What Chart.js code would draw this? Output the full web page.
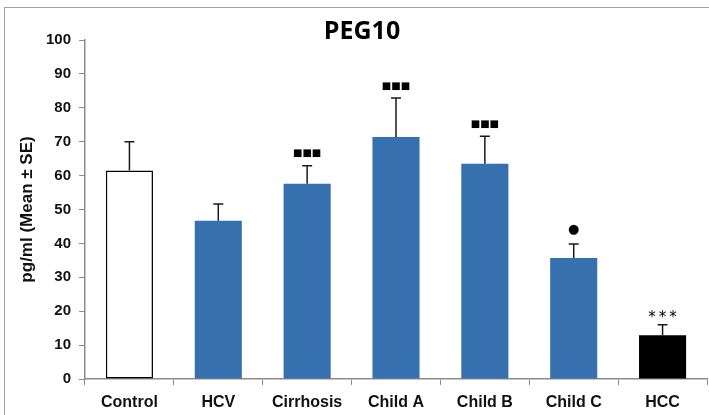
<!DOCTYPE html>
<html>
<head>
<meta charset="utf-8">
<script src="https://cdn.jsdelivr.net/npm/chart.js@4.4.1/dist/chart.umd.min.js"></script>
<style>
  html, body { margin: 0; padding: 0; background: #fff; }
  #wrap { width: 709px; height: 415px; position: relative; }
</style>
</head>
<body>
<div id="wrap"><canvas id="grafico"></canvas></div>
<script>
// dados
const categorias = ['Control', 'HCV', 'Cirrhosis', 'Child A', 'Child B', 'Child C', 'HCC'];
const medias = [61.5, 46.7, 57.6, 71.4, 63.5, 35.7, 12.9];
const erros = [8.5, 4.9, 5.3, 11.5, 8.1, 4.1, 3.1];
const marcas = ['', '', '■■■', '■■■', '■■■', '●', '***'];
const yTicks = [0, 10, 20, 30, 40, 50, 60, 70, 80, 90, 100];

const corFundo = ['#ffffff', '#3770ae', '#3770ae', '#3770ae', '#3770ae', '#3770ae', '#000000'];
const corBorda = ['#000000', '#3770ae', '#3770ae', '#3770ae', '#3770ae', '#3770ae', '#000000'];
const larguraBorda = [1.5, 0, 0, 0, 0, 0, 0];

// moldura, título, barras de erro e marcas de significância
const extras = {
  id: 'extras',
  beforeDraw(chart) {
    const ctx = chart.ctx;
    ctx.save();
    ctx.strokeStyle = '#a0a0a0';
    ctx.lineWidth = 1;
    ctx.strokeRect(4.5, 7.5, 900, 900);
    ctx.restore();
  },
  afterDatasetsDraw(chart) {
    const ctx = chart.ctx;
    const y = chart.scales.y;
    const meta = chart.getDatasetMeta(0);
    ctx.save();
    meta.data.forEach((bar, i) => {
      const topo = y.getPixelForValue(medias[i] + erros[i]);
      ctx.strokeStyle = '#1a1a1a';
      ctx.lineWidth = 1.5;
      ctx.beginPath();
      ctx.moveTo(bar.x, bar.y);
      ctx.lineTo(bar.x, topo);
      ctx.moveTo(bar.x - 5, topo);
      ctx.lineTo(bar.x + 5, topo);
      ctx.stroke();
      if (marcas[i]) {
        ctx.fillStyle = '#000';
        ctx.textAlign = 'center';
        ctx.textBaseline = 'middle';
        if (marcas[i] === '***') {
          ctx.font = '15px "DejaVu Sans"';
          ctx.letterSpacing = '3px';
          ctx.fillText(marcas[i], bar.x + 1.5, topo - 7);
          ctx.letterSpacing = '0px';
        } else if (marcas[i] === '●') {
          ctx.font = '13px "DejaVu Sans"';
          ctx.fillText(marcas[i], bar.x, topo - 14);
        } else {
          ctx.font = '10px "DejaVu Sans"';
          ctx.fillText(marcas[i], bar.x, topo - 12);
        }
      }
    });
    // título
    ctx.fillStyle = '#000';
    ctx.textAlign = 'center';
    ctx.textBaseline = 'alphabetic';
    ctx.font = 'bold 25px "Open Sans"';
    ctx.fillText('PEG10', 362, 39);
    ctx.restore();
  }
};

const ctx = document.getElementById('grafico').getContext('2d');
new Chart(ctx, {
  type: 'bar',
  data: {
    labels: categorias,
    datasets: [{
      data: medias,
      backgroundColor: corFundo,
      borderColor: corBorda,
      borderWidth: larguraBorda,
      borderSkipped: false,
      barPercentage: 0.53,
      categoryPercentage: 1
    }]
  },
  options: {
    responsive: true,
    maintainAspectRatio: false,
    animation: false,
    layout: { padding: { top: 40, left: 0, right: 2, bottom: 0 } },
    plugins: {
      legend: { display: false },
      tooltip: { enabled: false }
    },
    scales: {
      x: {
        offset: true,
        grid: { offset: true, drawOnChartArea: false, drawTicks: true, tickLength: 6, color: '#8c8c8c' },
        border: { color: '#8c8c8c', width: 1.5 },
        ticks: { color: '#111', font: { family: 'Liberation Sans', size: 16, weight: 'bold' }, padding: 8, maxRotation: 0 },
        afterFit: s => { s.height = 36; }
      },
      y: {
        min: 0,
        max: 100,
        afterBuildTicks: s => { s.ticks = yTicks.map(v => ({ value: v })); },
        grid: { drawOnChartArea: false, drawTicks: true, tickLength: 6, color: '#8c8c8c' },
        border: { color: '#8c8c8c', width: 1.5 },
        ticks: { color: '#111', font: { family: 'Liberation Sans', size: 15, weight: 'bold' }, padding: 8 },
        title: {
          display: true,
          text: 'pg/ml (Mean ± SE)',
          color: '#111',
          font: { family: 'Liberation Sans', size: 17, weight: 'bold' },
          padding: { top: 17, bottom: 0 }
        },
        afterFit: s => { s.width = 85; }
      }
    }
  },
  plugins: [extras]
});
</script>
</body>
</html>
